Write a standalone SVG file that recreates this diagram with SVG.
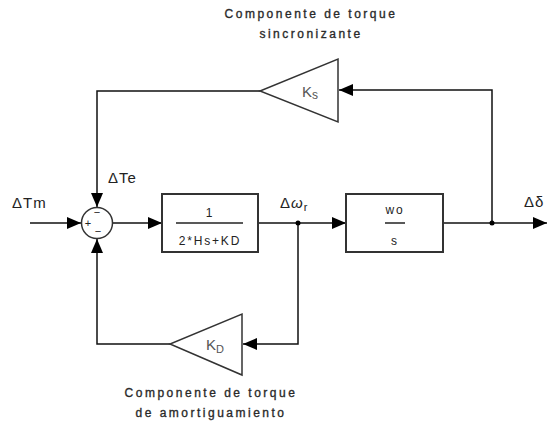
<svg xmlns="http://www.w3.org/2000/svg" width="549" height="425" viewBox="0 0 549 425">
<style>
.ln{fill:none;stroke:#111;stroke-width:1.5}
.bx{fill:#fff;stroke:#333;stroke-width:2}
.t{font-family:"Liberation Sans",Arial,sans-serif;fill:#222}
.cap{font-size:12px;letter-spacing:2.5px;text-anchor:middle;stroke:#333;stroke-width:0.35}
.sym{font-size:15px;letter-spacing:1px}
.blk{font-size:12px;letter-spacing:1.8px;text-anchor:middle}
.gain{font-size:15px;fill:#555}
</style>
<defs>
<marker id="ah" viewBox="0 0 14 12" refX="14" refY="6" markerWidth="14" markerHeight="12" markerUnits="userSpaceOnUse" orient="auto">
<path d="M0,0 L14,6 L0,12 Z" fill="#000"/>
</marker>
</defs>
<g id="connectors">
<line class="ln" x1="30" y1="223" x2="81" y2="223" marker-end="url(#ah)"/>
<line class="ln" x1="113" y1="223" x2="162" y2="223" marker-end="url(#ah)"/>
<line class="ln" x1="258" y1="223" x2="346" y2="223" marker-end="url(#ah)"/>
<line class="ln" x1="443" y1="223" x2="547" y2="223" marker-end="url(#ah)"/>
<polyline class="ln" points="492,223 492,90 339,90" marker-end="url(#ah)"/>
<polyline class="ln" points="260,91 97,91 97,207" marker-end="url(#ah)"/>
<polyline class="ln" points="298,223 298,344 243,344" marker-end="url(#ah)"/>
<polyline class="ln" points="170,344 97,344 97,239" marker-end="url(#ah)"/>
<circle cx="298" cy="223" r="2.5" fill="#000"/>
<circle cx="492" cy="223" r="2.5" fill="#000"/>
</g>
<g id="sum">
<circle cx="97" cy="223" r="15.5" fill="#fff" stroke="#333" stroke-width="1.5"/>
<text class="t" x="88" y="227" font-size="11" text-anchor="middle">+</text>
<text class="t" x="97" y="216" font-size="11" text-anchor="middle">−</text>
<text class="t" x="98" y="235" font-size="11" text-anchor="middle">−</text>
</g>
<g id="block1">
<rect class="bx" x="162" y="194" width="96" height="58"/>
<text class="t blk" x="210" y="217" font-size="13">1</text>
<line x1="176" y1="223" x2="243" y2="223" stroke="#222" stroke-width="1.5"/>
<text class="t blk" x="210" y="245">2*Hs+KD</text>
</g>
<g id="block2">
<rect class="bx" x="346" y="194" width="97" height="58"/>
<text class="t blk" x="395" y="214" font-size="10">wo</text>
<line x1="385" y1="223" x2="405" y2="223" stroke="#222" stroke-width="1.5"/>
<text class="t blk" x="395" y="245" font-size="11">s</text>
</g>
<g id="ks">
<polygon points="338,59 338,122 260,91" fill="#fff" stroke="#333" stroke-width="1.5"/>
<text class="t gain" x="302" y="97">K<tspan font-size="12" dy="2">s</tspan></text>
</g>
<g id="kd">
<polygon points="242,314 242,375 170,344" fill="#fff" stroke="#333" stroke-width="1.5"/>
<text class="t gain" x="206" y="350">K<tspan font-size="11" dy="3">D</tspan></text>
</g>
<g id="labels">
<text class="t sym" x="12" y="208">ΔTm</text>
<text class="t sym" x="108" y="183">ΔTe</text>
<text class="t sym" x="280" y="208">Δ<tspan font-style="italic">ω</tspan><tspan font-size="11" dy="3">r</tspan></text>
<text class="t sym" x="524" y="207">Δδ</text>
<text class="t cap" x="311" y="18">Componente de torque</text>
<text class="t cap" x="311" y="38">sincronizante</text>
<text class="t cap" x="211" y="397">Componente de torque</text>
<text class="t cap" x="211" y="417">de amortiguamiento</text>
</g>
</svg>
